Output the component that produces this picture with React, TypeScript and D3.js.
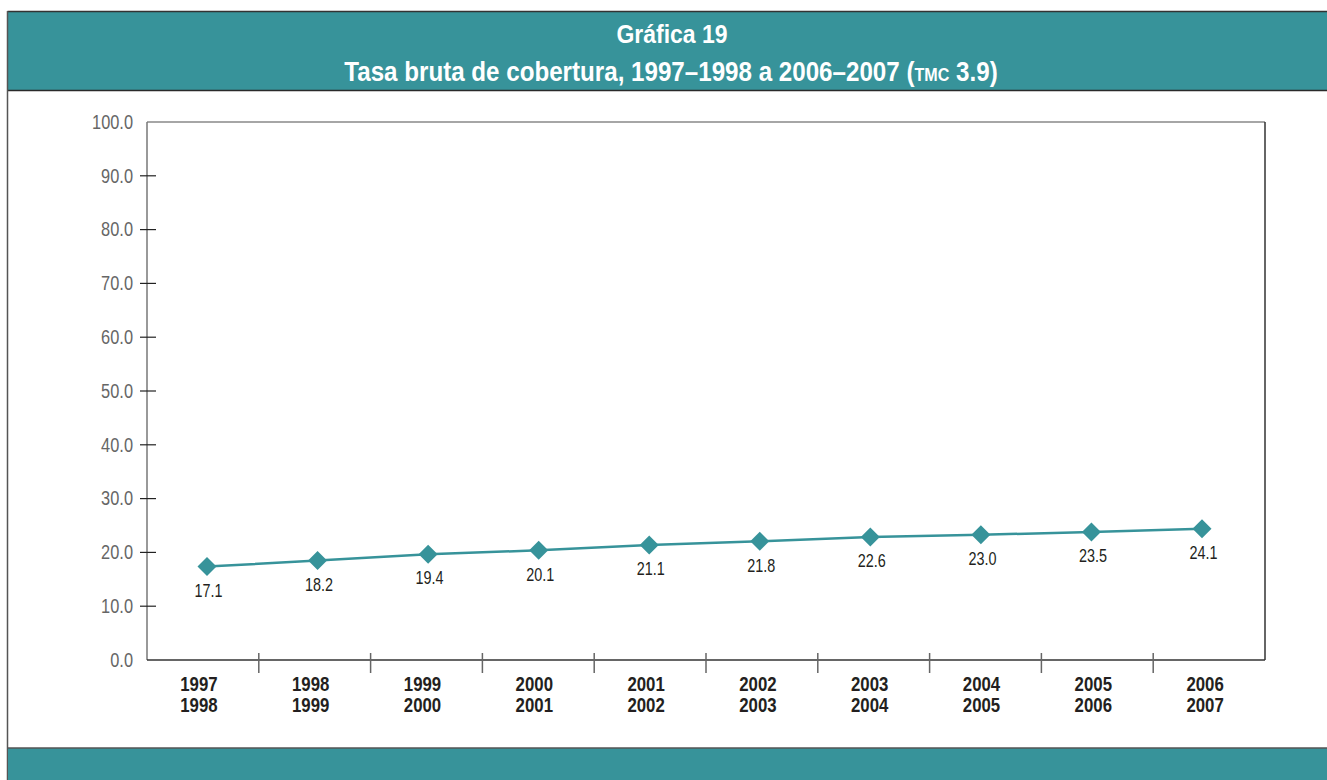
import React from "react";
import * as d3 from "d3";

const categories = [
  ["1997", "1998"], ["1998", "1999"], ["1999", "2000"], ["2000", "2001"], ["2001", "2002"],
  ["2002", "2003"], ["2003", "2004"], ["2004", "2005"], ["2005", "2006"], ["2006", "2007"],
];
const values = [17.1, 18.2, 19.4, 20.1, 21.1, 21.8, 22.6, 23.0, 23.5, 24.1];
const yTicks = [0, 10, 20, 30, 40, 50, 60, 70, 80, 90, 100];
const title1 = "Gráfica 19";
const title2 = "Tasa bruta de cobertura, 1997–1998 a 2006–2007 (";
const title2sc = "TMC";
const title2end = " 3.9)";

const W = 1327, H = 780;
const TEAL = "#37939a";
const FONT = "'Liberation Sans', Arial, sans-serif";

function NText({ x, y, sx, children, ...rest }: any) {
  return (
    <g transform={`translate(${x},${y}) scale(${sx},1)`}>
      <text x={0} y={0} {...rest}>{children}</text>
    </g>
  );
}

export default function App() {
  const left = 147, right = 1265, top = 122, bottom = 660;
  const keys = categories.map((c) => c.join("-"));
  const xBand = d3.scaleBand().domain(keys).range([left, right]);
  const xPt = d3.scalePoint().domain(keys).range([left + 60, right - 63]);
  const y = d3.scaleLinear().domain([0, 100]).range([bottom, top]);
  const off = -1.5;
  const line = d3.line<number>().x((_, i) => xPt(keys[i])!).y((d) => y(d) + off);
  const bw = xBand.bandwidth();

  return (
    <svg width={W} height={H} style={{ position: "absolute", left: 0, top: 0 }} fontFamily={FONT}>
      <rect x={0} y={0} width={W} height={H} fill="#fff" />
      {/* header */}
      <rect x={8} y={11} width={W - 8} height={80} fill={TEAL} />
      <line x1={7.5} x2={W} y1={11.5} y2={11.5} stroke="#333" strokeWidth={1.5} />
      <line x1={7.5} x2={W} y1={90.5} y2={90.5} stroke="#2a2a2a" strokeWidth={1.5} />
      <line x1={7.5} x2={7.5} y1={11} y2={780} stroke="#555" strokeWidth={1.5} />
      <NText x={672} y={43} sx={0.92} textAnchor="middle" fill="#fff" fontWeight="bold" fontSize={25}>{title1}</NText>
      <NText x={671} y={81} sx={0.895} textAnchor="middle" fill="#fff" fontWeight="bold" fontSize={27}>
        {title2}
        <tspan fontSize={18}>{title2sc}</tspan>
        {title2end}
      </NText>
      {/* footer */}
      <rect x={8} y={748} width={W - 8} height={H - 748} fill={TEAL} />
      <line x1={7.5} x2={W} y1={748} y2={748} stroke="#555" strokeWidth={1.5} />

      {/* frame */}
      <line x1={left} x2={right} y1={top} y2={top} stroke="#888" strokeWidth={1.5} />
      <line x1={right} x2={right} y1={top} y2={bottom} stroke="#333" strokeWidth={1.5} />
      <line x1={left} x2={left} y1={top} y2={bottom} stroke="#777" strokeWidth={1.5} />
      <line x1={left} x2={right} y1={bottom} y2={bottom} stroke="#333" strokeWidth={1.5} />

      {/* y ticks */}
      {yTicks.map((t) => (
        <g key={t}>
          {t > 0 && t < 100 && (
            <line x1={140} x2={156} y1={y(t)} y2={y(t)} stroke="#222" strokeWidth={1.2} />
          )}
          <NText x={133} y={y(t)} sx={0.84} dy="0.35em" textAnchor="end" fill="#666" fontSize={19.5}>
            {t.toFixed(1)}
          </NText>
        </g>
      ))}

      {/* x ticks */}
      {keys.slice(1).map((k) => (
        <line key={k} x1={xBand(k)!} x2={xBand(k)!} y1={653} y2={673} stroke="#666" strokeWidth={1.5} />
      ))}
      {categories.map((c, i) => {
        const cx = xBand(keys[i])! + bw / 2 - 4;
        return (
          <g key={keys[i]}>
            <NText x={cx} y={690.5} sx={0.8} textAnchor="middle" fill="#231f20" fontWeight="bold" fontSize={21}>{c[0]}</NText>
            <NText x={cx} y={712} sx={0.8} textAnchor="middle" fill="#231f20" fontWeight="bold" fontSize={21}>{c[1]}</NText>
          </g>
        );
      })}

      {/* line & markers */}
      <path d={line(values)!} fill="none" stroke={TEAL} strokeWidth={2.5} />
      {values.map((v, i) => {
        const cx = xPt(keys[i])!, cy = y(v) + off;
        return (
          <g key={keys[i]}>
            <path d={`M${cx},${cy - 9.5}L${cx + 9.5},${cy}L${cx},${cy + 9.5}L${cx - 9.5},${cy}Z`} fill={TEAL} />
            <NText x={cx + 1.5} y={cy + 24} sx={0.8} dy="0.35em" textAnchor="middle" fill="#231f20" fontSize={18}>
              {v.toFixed(1)}
            </NText>
          </g>
        );
      })}
    </svg>
  );
}
